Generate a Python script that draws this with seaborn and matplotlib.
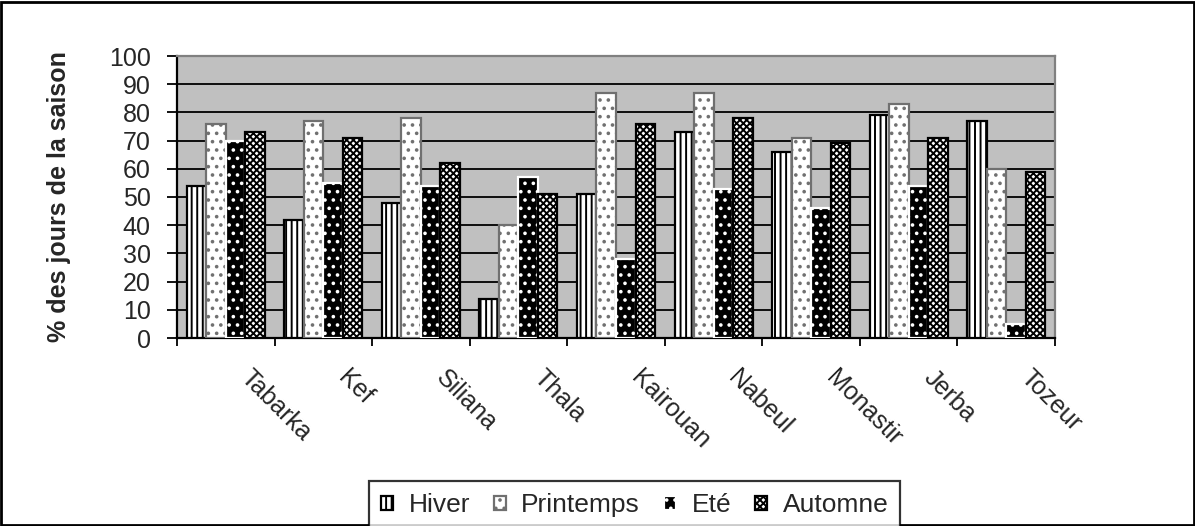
import matplotlib
matplotlib.use("Agg")
import matplotlib.pyplot as plt
import matplotlib.patches as mpatches
import matplotlib.transforms as mtransforms
import seaborn as sns
import pandas as pd

# Data
stations = ["Tabarka", "Kef", "Siliana", "Thala", "Kairouan", "Nabeul", "Monastir", "Jerba", "Tozeur"]
hiver = [54, 42, 48, 14, 51, 73, 66, 79, 77]
printemps = [76, 77, 78, 40, 87, 87, 71, 83, 60]
ete = [70, 55, 54, 57, 28, 53, 46, 54, 5]
automne = [73, 71, 62, 51, 76, 78, 69, 71, 59]
seasons = ["Hiver", "Printemps", "Eté", "Automne"]

df = pd.DataFrame({
    "station": stations * 4,
    "saison": sum([[s] * len(stations) for s in seasons], []),
    "valeur": hiver + printemps + ete + automne,
})

sns.set_style("white")
plt.rcParams["font.family"] = ["Liberation Sans", "DejaVu Sans"]
plt.rcParams["hatch.linewidth"] = 1.4

fig = plt.figure(figsize=(11.95, 5.26), dpi=100)
ax = fig.add_axes([177 / 1195, 1 - 338 / 526, (1055 - 177) / 1195, (338 - 56) / 526])

sns.barplot(data=df, x="station", y="valeur", hue="saison", hue_order=seasons,
            order=stations, palette=["white"] * 4, edgecolor="black", linewidth=1.6,
            width=0.8, legend=False, ax=ax, zorder=3)

# Fill styles per season (face, hatch, hatch colour)
styles = [("white", "|||", "black"), ("white", "..", "#707070"),
          ("black", "..", "white"), ("white", "xxxxx", "black")]
for cont, (fc, hatch, hc) in zip(ax.containers, styles):
    for p in cont.patches:
        p.set_facecolor(fc)
        p.set_hatch(hatch)
        if hasattr(p, "set_hatchcolor"):
            p.set_hatchcolor(hc)
            p.set_edgecolor("black")
        else:
            p.set_edgecolor(hc)

ax.set_facecolor("#C0C0C0")
ax.set_ylim(0, 100)
ax.set_xlim(-0.5, len(stations) - 0.5)
ax.set_yticks(range(0, 101, 10))
ax.tick_params(axis="y", labelsize=18, length=7, width=1.3, color="black", direction="out", left=True, pad=12)
ax.yaxis.grid(True, color="black", linewidth=1.3, zorder=0)
ax.set_axisbelow(True)

# Category boundaries as tick marks, labels rotated
ax.set_xticks([i - 0.5 for i in range(len(stations) + 1)], minor=True)
ax.tick_params(axis="x", which="minor", length=6, width=1.3, color="black", bottom=True, direction="out")
ax.tick_params(axis="x", which="major", length=0, labelsize=18, pad=0)
ax.set_xticks(range(len(stations)))
ax.set_xticklabels(stations, rotation=-45, ha="left", va="top", rotation_mode="anchor")
shift = mtransforms.ScaledTranslation(27 / 100, -28 / 100, fig.dpi_scale_trans)
for lbl in ax.get_xticklabels():
    lbl.set_transform(lbl.get_transform() + shift)

ax.set_xlabel("")
ax.set_ylabel("% des jours de la saison", fontsize=18, fontweight="bold")
ax.yaxis.set_label_coords((71 - 177) / 878, 0.5)

for side in ["left", "bottom"]:
    ax.spines[side].set_color("black")
    ax.spines[side].set_linewidth(1.6)
for side in ["top", "right"]:
    ax.spines[side].set_color("#808080")
    ax.spines[side].set_linewidth(1.6)

leg = fig.legend(ax.containers, seasons, loc="lower center", bbox_to_anchor=(0.531, -0.006), ncol=4,
                 fontsize=19, frameon=True, fancybox=False, edgecolor="black",
                 handlelength=0.45, handleheight=0.45, handletextpad=0.6, columnspacing=0.9,
                 borderpad=0.45, borderaxespad=0)
leg.get_frame().set_linewidth(1.6)

fig.patches.append(mpatches.Rectangle((0.001, 0.001), 0.998, 0.996, transform=fig.transFigure,
                                      fill=False, edgecolor="black", linewidth=2))

fig.savefig("out.png", dpi=100, facecolor="white")
